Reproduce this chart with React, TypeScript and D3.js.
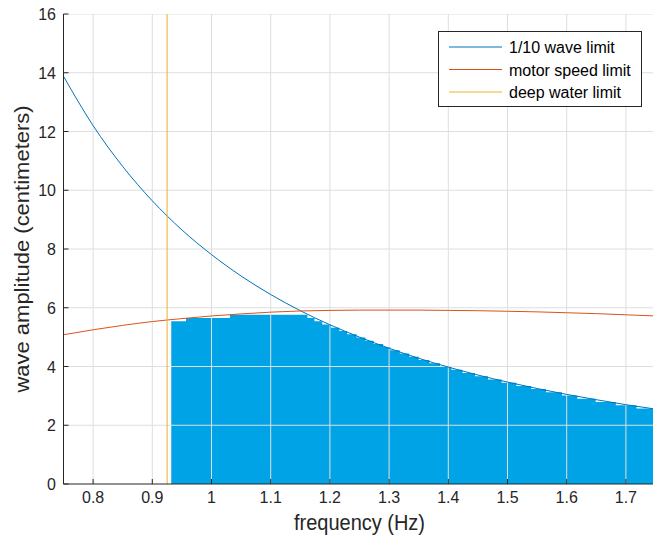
import React from "react";
import * as d3 from "d3";

// x-axis ticks and y-axis ticks
const xTicks = [0.8, 0.9, 1.0, 1.1, 1.2, 1.3, 1.4, 1.5, 1.6, 1.7];
const yTicks = [0, 2, 4, 6, 8, 10, 12, 14, 16];

// 1/10 wave limit (cm)
const waveFreq = [0.75, 0.8, 0.85, 0.9, 0.95, 1.0, 1.05, 1.1, 1.15, 1.2, 1.25, 1.3, 1.35, 1.4, 1.45, 1.5, 1.55, 1.6, 1.65, 1.7, 1.75];
const waveAmp = [13.88, 12.2, 10.81, 9.64, 8.65, 7.81, 7.08, 6.45, 5.9, 5.42, 5.0, 4.62, 4.28, 3.98, 3.71, 3.47, 3.25, 3.05, 2.87, 2.7, 2.55];

// motor speed limit (cm)
const motorFreq = [0.75, 0.8, 0.85, 0.9, 0.95, 1.0, 1.05, 1.1, 1.15, 1.2, 1.25, 1.3, 1.35, 1.4, 1.45, 1.5, 1.55, 1.6, 1.65, 1.7, 1.75];
const motorAmp = [5.08, 5.25, 5.4, 5.53, 5.63, 5.72, 5.79, 5.85, 5.89, 5.91, 5.92, 5.92, 5.92, 5.91, 5.9, 5.88, 5.86, 5.83, 5.8, 5.76, 5.72];

// deep water limit (Hz)
const deepWaterFreq = 0.925;

// achievable amplitude bars: step start frequency and level
const barStart = [0.932, 0.957, 1.031, 1.162, 1.174, 1.187, 1.202, 1.216, 1.229, 1.245, 1.26, 1.274, 1.29, 1.302, 1.318, 1.334, 1.35, 1.368, 1.386, 1.405, 1.424, 1.445, 1.467, 1.49, 1.515, 1.54, 1.565, 1.592, 1.618, 1.649, 1.683, 1.718];
const barLevel = [5.54, 5.65, 5.76, 5.65, 5.54, 5.43, 5.32, 5.21, 5.1, 4.99, 4.88, 4.77, 4.66, 4.55, 4.44, 4.33, 4.22, 4.11, 4.0, 3.89, 3.78, 3.67, 3.56, 3.45, 3.34, 3.23, 3.12, 3.01, 2.9, 2.79, 2.68, 2.57];
const barEnd = 1.75;

const legendLabels = ["1/10 wave limit", "motor speed limit", "deep water limit"];
const colors = ["#0072BD", "#D95319", "#EDB120"];

const W = 653;
const H = 541;
const FONT = "'Liberation Sans', Arial, Helvetica, sans-serif";
const SY = 1.08; // vertical stretch of the reference text

export default function App() {
  const x = d3.scaleLinear().domain([0.75, 1.75]).range([63.5, 655.5]);
  const y = d3.scaleLinear().domain([0, 16]).range([484, 14]);
  const [x0, x1] = x.range();
  const [yb, yt] = y.range();

  const line = d3
    .line<[number, number]>()
    .x((d) => x(d[0]))
    .y((d) => y(d[1]))
    .curve(d3.curveMonotoneX);

  const wavePath = line(waveFreq.map((f, i) => [f, waveAmp[i]]) as [number, number][]) || "";
  const motorPath = line(motorFreq.map((f, i) => [f, motorAmp[i]]) as [number, number][]) || "";

  const stepPts: [number, number][] = barStart.map((s, i) => [s, barLevel[i]]);
  stepPts.push([barEnd, barLevel[barLevel.length - 1]]);
  const area = d3
    .area<[number, number]>()
    .x((d) => x(d[0]))
    .y0(yb)
    .y1((d) => y(d[1]))
    .curve(d3.curveStepAfter);
  const barPath = area(stepPts) || "";

  const fmt = (v: number) => (Math.abs(v - Math.round(v)) < 1e-9 ? String(Math.round(v)) : v.toFixed(1));

  return (
    <svg width={W} height={H} style={{ position: "absolute", left: 0, top: 0, background: "#fff" }} fontFamily={FONT}>
      <defs>
        <clipPath id="plot">
          <rect x={x0} y={yt} width={x1 - x0} height={yb - yt} />
        </clipPath>
      </defs>
      <g clipPath="url(#plot)">
        <path d={barPath} fill="#00A3E6" />
        {/* grid */}
        {xTicks.map((t) => (
          <line key={"gx" + t} x1={x(t)} x2={x(t)} y1={yt} y2={yb} stroke="#dedede" strokeWidth={1} />
        ))}
        {yTicks.slice(1).map((t) => (
          <line key={"gy" + t} x1={x0} x2={x1} y1={y(t)} y2={y(t)} stroke="#dedede" strokeWidth={1} />
        ))}
        <path d={wavePath} fill="none" stroke={colors[0]} strokeWidth={1} />
        <path d={motorPath} fill="none" stroke={colors[1]} strokeWidth={1} />
        <line x1={x(deepWaterFreq)} x2={x(deepWaterFreq)} y1={yt} y2={yb} stroke={colors[2]} strokeWidth={1} />
      </g>
      {/* axes */}
      <line x1={x0} x2={x0} y1={yt} y2={yb} stroke="#262626" strokeWidth={1} />
      <line x1={x0} x2={x1} y1={yb} y2={yb} stroke="#262626" strokeWidth={1} />
      {xTicks.map((t) => (
        <g key={"xt" + t}>
          <line x1={x(t)} x2={x(t)} y1={yb} y2={yb - 5} stroke="#262626" />
          <text transform={`translate(${x(t)}, 503) scale(1, ${SY})`} textAnchor="middle" fontSize={16} fill="#262626">
            {fmt(t)}
          </text>
        </g>
      ))}
      {yTicks.map((t) => (
        <g key={"yt" + t}>
          <line x1={x0} x2={x0 + 5} y1={y(t)} y2={y(t)} stroke="#262626" />
          <text transform={`translate(56, ${y(t) + 6}) scale(1, ${SY})`} textAnchor="end" fontSize={16} fill="#262626">
            {t}
          </text>
        </g>
      ))}
      <text transform={`translate(${(x0 + x1) / 2}, 530) scale(1, ${SY})`} textAnchor="middle" fontSize={20} fill="#262626">
        frequency (Hz)
      </text>
      <text transform={`translate(29, ${(yt + yb) / 2}) rotate(-90) scale(1.1, 1)`} textAnchor="middle" fontSize={20} fill="#262626">
        wave amplitude (centimeters)
      </text>
      {/* legend */}
      <g transform="translate(438, 31)">
        <rect x={0.5} y={0.5} width={203} height={75} fill="#fff" stroke="#262626" strokeWidth={1} />
        {legendLabels.map((l, i) => (
          <g key={l} transform={`translate(0, ${16 + i * 22.5})`}>
            <line x1={11} x2={64} y1={0} y2={0} stroke={colors[i]} strokeWidth={1} />
            <text transform={`translate(71, 6) scale(1, ${SY})`} fontSize={16} fill="#000">
              {l}
            </text>
          </g>
        ))}
      </g>
    </svg>
  );
}
